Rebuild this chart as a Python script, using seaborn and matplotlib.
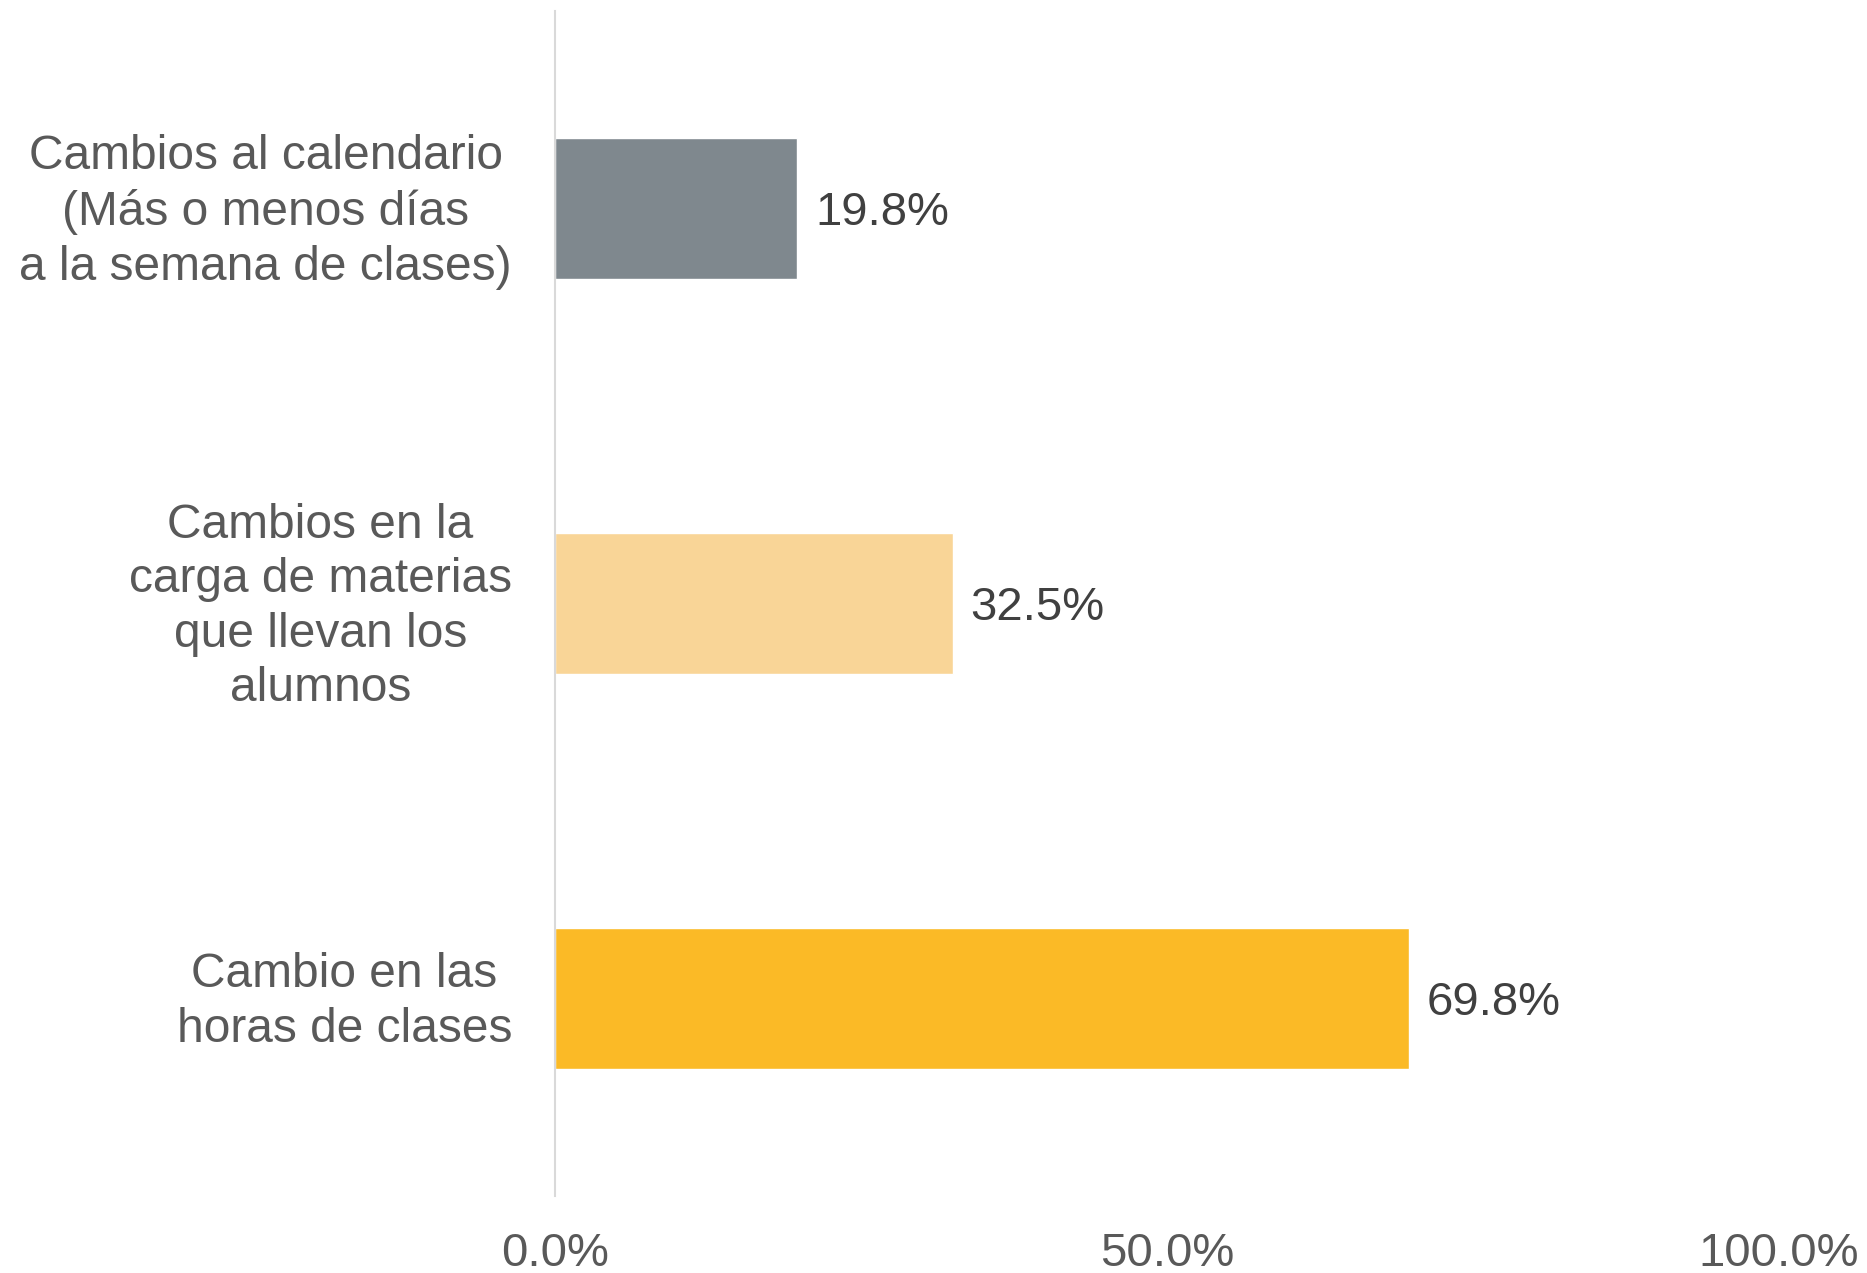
import matplotlib
matplotlib.use('Agg')
import matplotlib.pyplot as plt
import matplotlib.transforms as mtransforms
import seaborn as sns
import pandas as pd
from matplotlib.ticker import FuncFormatter

# data
categories = [
    'Cambios al calendario\n(Más o menos días\na la semana de clases)',
    'Cambios en la\ncarga de materias\nque llevan los\nalumnos',
    'Cambio en las\nhoras de clases',
]
values = [19.8, 32.5, 69.8]
colors = ['#7F888E', '#F9D597', '#FBBA26']
x_ticks = [0, 50, 100]

sns.set_theme(style='white')
plt.rcParams['font.family'] = ['Liberation Sans', 'DejaVu Sans']

df = pd.DataFrame({'cat': categories, 'val': values})

fig = plt.figure(figsize=(18.67, 12.73), dpi=100)
ax = fig.add_axes([0.2973, 0.0605, 0.6553, 0.9309])

sns.barplot(data=df, y='cat', x='val', hue='cat', palette=colors,
            orient='h', width=0.357, legend=False, ax=ax, saturation=1)

ax.set_xlim(0, 100)
ax.set_ylim(2.5, -0.5)
ax.set_xticks(x_ticks)
ax.xaxis.set_major_formatter(FuncFormatter(lambda v, _: f'{v:.1f}%'))
ax.set_xlabel('')
ax.set_ylabel('')

for s in ['top', 'right', 'bottom']:
    ax.spines[s].set_visible(False)
ax.spines['left'].set_color('#D9D9D9')
ax.spines['left'].set_linewidth(1.5)

ax.tick_params(axis='x', length=0, pad=26, labelsize=34, labelcolor='#595959')
ax.tick_params(axis='y', length=0, pad=31, labelsize=34.5, labelcolor='#595959')

# nudge category labels up a little
shift = mtransforms.ScaledTranslation(0, 4.5 / 72, fig.dpi_scale_trans)
for tick in ax.yaxis.get_major_ticks():
    lbl = tick.label1
    lbl.set_multialignment('center')
    lbl.set_linespacing(1.27)
    lbl.set_transform(lbl.get_transform() + shift)

# value labels next to each bar
for c in ax.containers:
    for p, v in zip(c.patches, c.datavalues):
        ax.annotate(f'{v:.1f}%', (p.get_width(), p.get_y() + p.get_height() / 2),
                    xytext=(13, 0), textcoords='offset points',
                    ha='left', va='center_baseline', fontsize=34, color='#404040')

fig.savefig('out.png', dpi=100, facecolor='white')
